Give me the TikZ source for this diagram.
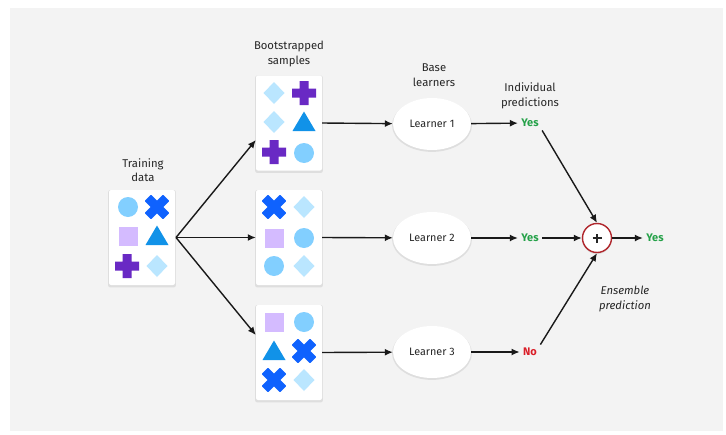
\documentclass[tikz,border=0pt]{standalone}
\usepackage{fontspec}
\setmainfont{Fira Sans}
\usetikzlibrary{arrows.meta,shadows,shapes.geometric}
\definecolor{bgGray}{HTML}{F3F3F3}
\definecolor{cCirc}{HTML}{82CFFF}
\definecolor{cCross}{HTML}{0F62FE}
\definecolor{cSquare}{HTML}{D4BBFF}
\definecolor{cTri}{HTML}{1192E8}
\definecolor{cPlus}{HTML}{6929C4}
\definecolor{cDiam}{HTML}{BAE6FF}
\definecolor{cYes}{HTML}{24A148}
\definecolor{cNo}{HTML}{DA1E28}
\definecolor{cRing}{HTML}{B0272D}
\definecolor{cText}{HTML}{262626}
\tikzset{
  x=1pt, y=-1pt,
  every node/.style={font=\fontsize{10.8}{12}\selectfont, text=cText},
  softshadow/.style={drop shadow={opacity=0.18, shadow xshift=0pt, shadow yshift=-1.2pt, shadow scale=1.025}},
  databox/.style={draw=none, fill=white, rounded corners=2pt, minimum width=66pt, minimum height=95pt, softshadow},
  learner/.style={ellipse, fill=white, minimum width=78pt, minimum height=52pt, inner sep=0pt, softshadow},
  caption/.style={align=center, font=\fontsize{11.3}{14.5}\selectfont},
  yes/.style={text=cYes, font=\fontsize{11}{12}\selectfont\bfseries},
  no/.style={text=cNo, font=\fontsize{11}{12}\selectfont\bfseries},
  arr/.style={line width=1.4pt, draw=black!90, -{Latex[length=8pt,width=7pt]}},
  shCirc/.pic={\fill[cCirc] (0,0) circle (10);},
  shCross/.pic={\fill[cCross, rotate=45, rounded corners=0.8pt] (-13,-4.5) rectangle (13,4.5) (-4.5,-13) rectangle (4.5,13);},
  shSquare/.pic={\fill[cSquare] (-9.5,-9.5) rectangle (9.5,9.5);},
  shTri/.pic={\fill[cTri] (-11.5,9) -- (11.5,9) -- (0,-10.5) -- cycle;},
  shPlus/.pic={\fill[cPlus] (-12,-4.5) rectangle (12,4.5) (-4.5,-12) rectangle (4.5,12);},
  shDiam/.pic={\fill[cDiam] (-10.5,0) -- (0,-11) -- (10.5,0) -- (0,11) -- cycle;},
}
\begin{document}
\begin{tikzpicture}
\useasboundingbox (0,0) rectangle (726,434);
\fill[white] (0,0) rectangle (726,434);
\fill[bgGray] (10,8) rectangle (723,431);

% training set and bootstrapped samples
\node[databox] (train) at (142,237.5) {};
\node[databox] (s1) at (289,123) {};
\node[databox] (s2) at (289,237.5) {};
\node[databox] (s3) at (289,352.5) {};

\node[caption] at (143,170) {Training\\data};
\node[caption] at (289,54) {Bootstrapped\\samples};
\node[caption] at (434,75) {Base\\learners};
\node[caption] at (530,96) {Individual\\predictions};
\node[caption, font=\fontsize{11.3}{14.5}\selectfont\itshape] at (625,299) {Ensemble\\prediction};

% shapes of the training set
\pic at (128,207) {shCirc};  \pic at (157,207) {shCross};
\pic at (128,236) {shSquare};\pic at (157,236) {shTri};
\pic at (127,266) {shPlus};  \pic at (157,266) {shDiam};
% sample 1
\pic at (274,93) {shDiam};   \pic at (304,93) {shPlus};
\pic at (274,122) {shDiam};  \pic at (304,122) {shTri};
\pic at (274,152) {shPlus};  \pic at (304,153) {shCirc};
% sample 2
\pic at (274,207) {shCross}; \pic at (304,207) {shDiam};
\pic at (274,238) {shSquare};\pic at (304,238) {shCirc};
\pic at (274,266) {shCirc};  \pic at (304,266) {shDiam};
% sample 3
\pic at (274,322) {shSquare};\pic at (304,322) {shCirc};
\pic at (274,351) {shTri};   \pic at (304,351) {shCross};
\pic at (274,380) {shCross}; \pic at (304,380) {shDiam};

% learners
\node[learner] (l1) at (432,124) {Learner 1};
\node[learner] (l2) at (432,238) {Learner 2};
\node[learner] (l3) at (432,352) {Learner 3};

% predictions
\node[yes] (p1) at (530,123) {Yes};
\node[yes] (p2) at (530,238) {Yes};
\node[no]  (p3) at (530,352) {No};

% combiner with a drawn plus sign
\node[circle, draw=cRing, line width=1.4pt, fill=white, minimum size=29pt, inner sep=0pt, softshadow] (sum) at (597,238) {};
\draw[line width=1.1pt, cText] ([xshift=-4.5pt]sum.center) -- ([xshift=4.5pt]sum.center)
  ([yshift=-4.5pt]sum.center) -- ([yshift=4.5pt]sum.center);
\node[yes] (final) at (655,238) {Yes};

% connectors
\coordinate (fork) at (176,237.5);
\draw[arr] (fork) -- (s1.west |- 0,140);
\draw[arr] (fork) -- (s2.west);
\draw[arr] (fork) -- (s3.west |- 0,335);
\draw[arr] (s1.east) -- (l1);
\draw[arr] (s2.east) -- (l2);
\draw[arr] (s3.east) -- (l3);
\draw[arr] (l1) -- (p1);
\draw[arr] (l2) -- (p2);
\draw[arr] (l3) -- (p3);
\draw[arr] (p1.south east) -- (sum.north);
\draw[arr] (p2) -- (sum);
\draw[arr] (p3.north east) -- (sum.south);
\draw[arr] (sum) -- (final);
\end{tikzpicture}
\end{document}
